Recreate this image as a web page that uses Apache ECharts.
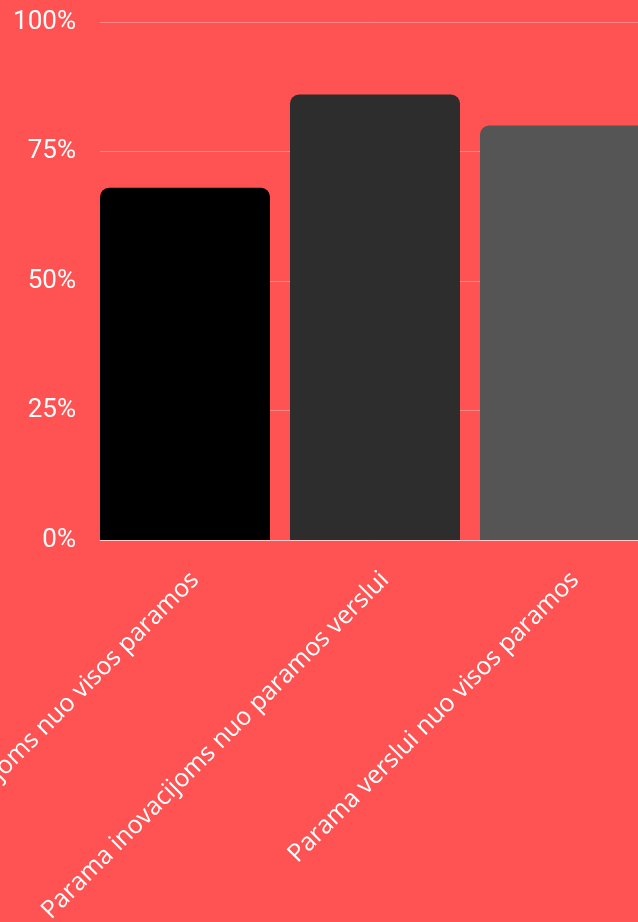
<!DOCTYPE html>
<html><head><meta charset="utf-8">
<script src="https://cdn.jsdelivr.net/npm/echarts@6/dist/echarts.min.js"></script>
<style>html,body{margin:0;padding:0;background:#ff5252}#c{width:638px;height:922px}</style>
</head><body><div id="c"></div>
<script>
const categories = ["Parama inovacijoms nuo visos paramos", "Parama inovacijoms nuo paramos verslui", "Parama verslui nuo visos paramos"];
const values = [68, 86, 80];
const barColors = ["#000000", "#2d2d2d", "#555555"];
const yTicks = [0, 25, 50, 75, 100];

const chart = echarts.init(document.getElementById('c'));
chart.setOption({
  backgroundColor: '#ff5252',
  animation: false,
  grid: { left: 100, right: -32, top: 22, bottom: 382, containLabel: false, outerBoundsMode: 'none' },
  xAxis: {
    type: 'category',
    data: categories,
    axisLine: { show: true, lineStyle: { color: 'rgba(255,255,255,0.55)', width: 1 } },
    axisTick: { show: false },
    axisLabel: { rotate: 45, color: '#ffffff', fontFamily: 'Open Sans', fontSize: 25, margin: 36, interval: 0 }
  },
  yAxis: {
    type: 'value', min: 0, max: 100, interval: 25,
    axisLine: { show: false }, axisTick: { show: false },
    splitLine: { lineStyle: { color: 'rgba(255,255,255,0.3)', width: 1 } },
    axisLabel: { color: '#ffffff', fontFamily: 'Roboto', fontSize: 26, margin: 24, padding: [5, 0, 0, 0],
      formatter: v => yTicks.includes(v) ? v + '%' : '' }
  },
  series: [
    {
      type: 'bar', barWidth: 170, barGap: 0,
      data: values.map((v, i) => ({ value: v, itemStyle: { color: barColors[i], borderRadius: [9, 9, 0, 0] } }))
    },
    { type: 'bar', barWidth: 20, data: values.map(() => null) }
  ]
});
</script></body></html>
